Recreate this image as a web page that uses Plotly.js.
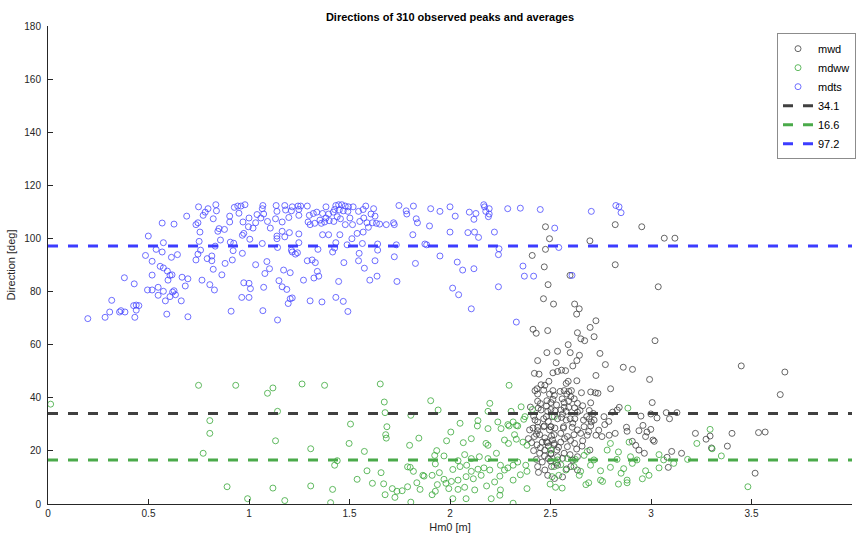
<!DOCTYPE html>
<html>
<head>
<meta charset="utf-8">
<script src="https://cdn.plot.ly/plotly-3.0.1.min.js"></script>
<style>
  html, body { margin: 0; padding: 0; background: #ffffff; }
  #chart { width: 856px; height: 538px; }
</style>
</head>
<body>
<div id="chart"></div>
<script>
// Observed peaks: [Hm0 (m), direction (deg)]
const mwdPoints = [
  [2.475,104.4],[2.495,99.9],[2.475,95.9],[2.409,93.6],[2.469,89.3],[2.696,99.1],[2.822,105.2],[2.954,104.4],[3.066,100.1],[3.119,100.1],
  [2.822,90.1],[2.597,86.1],[2.488,82.6],[3.036,81.8],[2.465,77.3],[2.515,75.3],[2.620,75.3],[2.643,73.5],[2.630,71.5],
  [2.413,65.8],[2.429,64.3],[2.486,65.3],[2.634,64.5],[2.651,62.2],[2.670,61.5],[2.697,66.5],[2.726,69.0],[2.717,63.0],[2.588,60.0],
  [2.482,57.0],[2.535,57.5],[2.598,57.0],[2.746,56.7],[2.644,56.0],[2.436,54.0],[2.528,53.2],[2.631,54.0],[2.611,52.0],[2.773,52.5],
  [2.862,51.5],[2.908,50.7],[2.420,49.2],[2.443,48.9],[2.512,49.4],[2.535,49.9],[2.555,50.4],[2.575,50.2],[2.726,48.4],[2.492,46.2],
  [2.453,44.9],[2.472,44.7],[2.578,45.4],[2.588,46.2],[2.631,46.4],[2.433,43.4],[2.423,42.7],[2.436,41.4],[2.466,42.9],[2.512,42.7],
  [2.495,41.4],[2.519,40.9],[2.548,42.4],[2.568,42.7],[2.591,42.4],[2.604,42.7],[2.581,41.4],[2.654,41.9],[2.700,42.2],[2.723,41.9],
  [2.736,41.7],[2.799,43.4],[2.436,38.7],[2.482,38.9],[2.512,39.4],[2.502,38.2],[2.558,39.6],[2.568,38.2],[2.601,40.4],[2.618,39.6],
  [2.634,37.9],[2.700,38.1],[2.568,36.4],[2.552,35.4],[2.578,34.9],[2.591,36.4],[2.439,36.1],[2.453,35.4],[2.486,34.9],[2.502,35.6],
  [2.522,35.1],[2.634,34.6],[2.647,35.2],[2.693,35.2],[2.713,34.1],[2.766,32.9],[2.809,34.6],[2.832,35.4],[2.842,36.4],[2.878,28.9],
  [2.416,33.1],[2.423,31.6],[2.436,30.9],[2.466,32.1],[2.479,32.9],[2.489,31.1],[2.509,32.9],[2.535,32.1],[2.555,32.6],[2.578,31.6],
  [2.598,32.1],[2.611,30.4],[2.621,32.1],[2.664,31.6],[2.680,32.9],[2.693,32.1],[2.703,30.9],[2.717,31.6],[2.436,28.9],[2.469,29.4],
  [2.502,29.1],[2.565,29.1],[2.608,28.9],[2.700,29.4],
  [3.020,61.5],[2.993,46.9],[3.449,52.0],[3.666,49.7],[3.643,41.2],[3.006,38.2],[2.950,33.1],[2.999,33.9],[3.030,32.4],[3.076,34.4],
  [3.092,32.1],[3.129,34.4],[2.960,29.6],[2.999,28.1],
  [3.221,26.6],[3.274,24.4],[3.294,25.6],[3.301,21.1],[3.403,26.6],[3.380,21.8],[3.535,26.9],[3.568,27.1],[3.518,11.6],[3.103,19.8],
  [3.152,19.1],[3.080,17.6],[3.086,13.8],
  [2.413,28.6],[2.436,27.6],[2.466,29.1],[2.495,27.9],[2.522,28.6],[2.420,25.4],[2.446,26.1],[2.472,24.9],[2.505,25.6],[2.406,23.1],
  [2.433,22.3],[2.459,23.3],[2.489,21.8],[2.519,22.8],[2.416,20.1],[2.446,19.1],[2.472,20.3],[2.502,18.8],[2.430,16.8],[2.459,15.8],
  [2.489,17.1],[2.436,14.1],[2.472,12.8],[2.505,14.1],[2.486,10.8],[2.390,24.6],[2.396,27.9],[2.532,20.3],
  [2.502,29.1],[2.564,28.6],[2.634,27.9],[2.667,29.1],[2.881,27.4],[2.940,27.6],[2.980,27.1],[2.518,26.1],[2.551,26.6],[2.584,25.4],
  [2.617,26.1],[2.650,26.6],[2.683,25.9],[2.726,25.9],[2.756,25.4],[2.792,25.9],[2.822,26.6],[2.907,23.6],[2.924,22.1],[2.973,25.4],
  [3.010,24.1],[3.016,23.6],[2.485,23.1],[2.518,22.3],[2.551,23.3],[2.584,21.6],[2.620,22.8],[2.657,21.8],[2.696,20.3],[2.940,20.3],
  [2.967,19.1],[2.502,19.1],[2.535,17.8],[2.568,19.1],[2.597,18.6],[2.634,17.8],[2.535,14.6],[2.601,14.1],[2.634,12.8],
  [2.400,36.5],[2.450,37.8],[2.480,36.9],[2.530,37.3],[2.560,33.9],[2.590,38.8],[2.620,36.2],[2.660,37.0],[2.430,26.3],[2.480,23.4],
  [2.510,24.1],[2.540,21.4],[2.570,24.6],[2.600,23.9],[2.630,20.7],[2.450,21.2],[2.500,16.2],[2.530,15.4],[2.560,17.2],[2.580,13.2],
  [2.470,18.1],[2.440,11.9],[2.520,9.6],[2.560,10.2],[2.610,16.5],[2.660,23.8],[2.690,27.3],[2.740,27.8],[2.770,29.9],[2.790,31.1]
];

const mdwwPoints = [
  [0.013,37.6],[0.749,44.7],[0.934,44.7],[0.805,31.4],[0.805,26.6],[0.772,19.1],[0.891,6.5],[0.993,2.0],
  [1.092,41.7],[1.119,43.7],[1.264,45.2],[1.376,44.7],[1.653,45.2],[1.673,38.4],[1.904,38.9],[1.941,35.4],[1.142,34.9],[1.677,34.4],
  [1.805,33.4],[1.505,30.1],[1.686,29.1],[1.680,26.1],[1.683,24.8],[1.132,23.8],[1.307,20.8],[1.498,22.8],[1.574,19.8],[1.799,22.1],
  [1.845,24.8],[1.983,23.8],[1.439,16.3],[1.426,14.6],[1.587,12.5],[1.538,9.3],[1.614,7.8],[1.657,11.8],[1.670,7.6],[1.677,3.5],
  [1.713,5.8],[1.736,4.8],[1.726,2.5],[1.762,5.0],[1.789,6.5],[1.805,0.7],[1.789,14.0],[1.802,13.8],[1.818,12.3],[1.835,8.0],
  [1.851,5.5],[1.865,10.8],[1.871,10.5],[1.911,10.8],[1.934,20.1],[1.924,18.3],[1.927,15.1],[1.947,11.8],[1.937,7.3],[1.911,3.5],
  [1.927,4.8],[1.970,18.1],[1.970,9.3],[1.980,7.8],[1.119,6.0],[1.307,6.8],[1.416,5.5],[1.178,1.3],[1.406,0.5],
  [2.294,44.7],[2.198,37.9],[2.189,34.9],[2.304,34.9],[2.354,36.6],[2.410,35.6],[2.050,30.4],[2.139,31.4],[2.136,29.4],[2.238,30.9],
  [2.314,30.9],[2.294,29.4],[2.337,29.4],[2.373,32.9],[2.367,31.9],[2.519,32.9],[2.885,36.1],
  [2.189,28.4],[2.254,28.4],[2.288,29.9],[2.330,29.6],[2.004,27.1],[2.106,24.6],[2.066,23.1],[2.179,22.8],[2.189,22.1],[2.271,24.1],
  [2.291,22.8],[2.321,26.1],[2.330,24.4],[2.363,23.3],[2.383,22.1],[2.040,16.3],[2.073,18.6],[2.106,17.1],[2.146,17.8],[2.189,17.1],
  [2.231,19.1],[2.251,14.6],[2.271,12.8],[2.314,14.6],[2.337,15.8],[2.377,14.6],[2.383,12.3],[2.350,11.0],[2.288,13.6],[2.014,13.0],
  [2.050,14.1],[2.083,14.6],[2.106,12.3],[2.139,13.1],[2.169,13.6],[2.198,12.8],[2.007,8.5],[2.040,9.0],[2.080,10.3],[2.116,9.5],
  [2.155,10.8],[2.222,8.3],[2.248,10.5],[2.314,9.0],[2.383,5.8],[1.994,5.8],[2.040,5.5],[2.073,6.3],[2.123,5.3],[2.182,6.8],
  [2.251,5.3],[2.014,2.0],[2.080,2.0],[2.205,2.0],[2.248,3.3],[2.314,0.3],
  [2.502,20.3],[2.535,16.6],[2.584,17.1],[2.624,16.8],[2.667,18.3],[2.683,19.8],[2.798,22.8],[2.782,20.3],[2.838,19.6],[2.891,23.3],
  [2.898,17.8],[2.716,16.6],[2.831,16.8],[2.930,16.6],[2.518,14.1],[2.551,14.8],[2.577,12.8],[2.617,14.1],[2.650,12.3],[2.699,14.6],
  [2.749,12.5],[2.798,13.8],[2.864,13.3],[2.907,15.3],[2.973,12.5],[2.851,11.6],[2.508,10.3],[2.541,10.8],[2.643,10.8],[2.749,9.0],
  [2.881,9.0],[2.957,9.5],[2.990,10.8],[2.498,7.5],[2.525,6.3],[2.558,6.0],[2.676,7.3],[2.690,8.0],[2.759,8.5],[2.838,7.5],[2.881,8.0],
  [3.294,28.1],[3.228,22.8],[3.304,20.8],[3.350,18.1],[3.182,16.8],[3.113,15.3],[3.040,18.6],[3.063,16.6],[3.040,13.6],[3.482,6.5]
];

const mdtsPoints = [
  [0.198,69.8],[0.284,70.3],[0.307,72.3],[0.356,72.3],[0.363,72.8],[0.383,72.3],[0.317,76.7],[0.380,85.2],[0.429,82.9],[0.426,74.7],
  [0.439,74.9],[0.452,74.7],[0.439,73.0],[0.432,70.3],[0.485,93.6],[0.499,100.9],[0.495,80.6],[0.518,80.6],[0.518,91.4],[0.518,86.2],
  [0.538,95.9],[0.548,81.6],[0.548,78.6],[0.574,80.1],[0.558,89.5],[0.574,88.9],[0.568,94.9],[0.574,98.4],[0.568,105.8],[0.591,71.5],
  [0.584,76.5],[0.594,87.7],[0.597,84.3],[0.607,86.1],[0.617,86.3],[0.620,79.8],[0.627,80.3],[0.634,78.8],[0.607,78.1],[0.614,92.9],
  [0.644,93.9],[0.627,105.4],[0.663,76.5],[0.667,85.4],[0.696,84.8],[0.683,82.1],[0.696,70.5],[0.690,108.4],[0.736,105.2],[0.746,105.9],
  [0.756,102.4],[0.749,111.9],[0.766,84.3],[0.752,98.9],[0.759,95.6],[0.746,94.1],[0.736,91.9],[0.772,108.7],[0.782,109.9],[0.796,111.2],
  [0.835,112.7],[0.838,110.4],[0.822,107.4],[0.792,92.4],[0.815,93.4],[0.815,91.6],[0.805,82.6],[0.828,80.6],[0.822,88.4],[0.845,102.7],
  [0.851,103.7],[0.878,103.4],[0.832,97.1],[0.858,99.4],[0.865,86.3],[0.881,90.6],[0.904,108.4],[0.904,106.2],[0.907,98.6],[0.924,98.2],
  [0.921,95.4],[0.917,91.9],[0.911,72.6],[0.927,111.7],[0.944,112.2],[0.960,112.2],[0.980,112.7],[0.950,109.5],[0.970,106.2],[1.000,107.7],
  [1.033,105.9],[1.040,109.0],[0.967,101.2],[0.974,101.9],[1.004,99.7],[0.967,94.4],[0.974,83.3],[1.000,83.1],[1.007,81.1],[1.000,77.8],
  [0.964,77.8],[1.033,90.1],[0.997,104.4],[1.020,103.9],
  [1.069,112.4],[1.135,112.4],[1.178,112.4],[1.215,111.9],[1.244,112.2],[1.257,112.2],[1.290,112.2],[1.383,111.9],[1.432,112.4],[1.446,112.7],
  [1.462,112.7],[1.479,112.2],[1.495,111.9],[1.518,111.9],[1.581,112.2],[1.620,111.2],[1.746,112.4],[1.818,112.2],[1.904,111.2],[1.950,110.2],
  [1.066,111.2],[1.073,109.2],[1.059,107.7],[1.139,110.2],[1.182,110.7],[1.211,110.4],[1.248,110.9],[1.248,108.7],[1.300,108.7],[1.320,109.4],
  [1.337,109.9],[1.366,109.4],[1.396,109.2],[1.419,109.9],[1.426,110.9],[1.449,110.7],[1.469,110.4],[1.492,110.2],[1.545,110.2],[1.568,110.9],
  [1.607,109.2],[1.627,108.4],[1.782,110.4],[1.785,109.2],[1.832,107.4],
  [1.092,106.4],[1.132,107.4],[1.165,106.2],[1.198,107.9],[1.294,106.2],[1.304,105.2],[1.327,105.7],[1.353,106.9],[1.360,105.7],[1.376,106.2],
  [1.383,107.7],[1.399,106.7],[1.422,106.4],[1.439,108.2],[1.455,107.4],[1.479,105.2],[1.502,107.7],[1.515,105.2],[1.551,106.4],[1.571,107.7],
  [1.587,105.9],[1.614,105.9],[1.634,105.7],[1.650,105.4],[1.683,105.2],[1.719,105.9],[1.723,105.2],[1.838,105.9],[1.898,104.7],
  [1.106,103.9],[1.139,100.9],[1.139,99.9],[1.165,102.7],[1.178,100.6],[1.201,102.2],[1.248,101.7],[1.366,101.4],[1.396,101.4],[1.452,101.4],
  [1.512,99.9],[1.538,101.9],[1.568,102.4],[1.594,104.2],[1.815,101.4],
  [1.142,96.6],[1.248,98.4],[1.432,98.4],[1.488,97.6],[1.564,98.1],[1.640,97.9],[1.640,95.6],[1.733,97.6],[1.875,97.9],[1.884,97.6],
  [1.066,98.1],[1.343,95.9],
  [1.211,95.6],[1.215,94.9],[1.231,94.1],[1.241,94.6],[1.416,94.9],[1.426,96.4],[1.548,94.4],[1.290,91.6],[1.314,91.9],[1.330,90.9],
  [1.472,90.9],[1.545,91.6],[1.627,91.6],[1.723,93.1],[1.828,90.6],[1.950,93.4],[1.089,91.3],[1.102,88.6],[1.079,86.8],[1.172,88.1],
  [1.205,87.1],[1.340,87.6],[1.323,85.1],[1.347,85.8],[1.574,88.8],[1.637,85.8],[1.601,84.3],[1.736,83.8],
  [1.149,84.1],[1.165,81.8],[1.188,80.8],[1.073,81.6],[1.271,84.3],[1.446,83.8],[1.205,77.3],[1.215,77.6],[1.195,75.5],[1.304,76.5],
  [1.363,76.1],[1.432,77.8],[1.469,76.3],[1.492,72.5],[1.069,72.8],[1.142,69.3],
  [2.000,111.9],[2.026,108.4],[2.096,109.9],[2.129,109.4],[2.119,107.2],[2.168,112.7],[2.172,111.9],[2.195,111.2],[2.178,110.2],[2.195,109.2],
  [2.191,108.2],[2.287,111.2],[2.350,111.4],[2.449,110.9],[2.703,110.2],[2.825,112.4],[2.841,111.9],[2.851,109.7],[2.000,102.4],[2.089,102.2],
  [2.122,102.4],[2.142,100.4],[2.221,102.4],[2.521,103.9],[2.244,96.1],[2.241,93.9],[2.541,96.6],[2.036,91.1],[2.063,88.1],[2.119,88.6],
  [2.363,89.6],[2.370,85.8],[2.416,85.8],[2.607,86.1],[2.013,81.3],[2.043,78.8],[2.241,81.8],[2.106,73.5],[2.330,68.5]
];

// Series averages (deg) and their legend labels
const meanValues = [34.1, 16.6, 97.2];
const meanLabels = ['34.1', '16.6', '97.2'];
const seriesNames = ['mwd', 'mdww', 'mdts'];

const hsRange = [0, 4];
const dirRange = [0, 180];
const xTickVals = [0, 0.5, 1, 1.5, 2, 2.5, 3, 3.5];
const xTickText = ['0', '0.5', '1', '1.5', '2', '2.5', '3', '3.5'];
const yTickVals = [0, 20, 40, 60, 80, 100, 120, 140, 160, 180];

const markerColors = ['#404040', '#3aa83a', '#4a4aff'];
const lineColors = ['#404040', '#4aaa4a', '#3c3cff'];

const pointSets = [mwdPoints, mdwwPoints, mdtsPoints];

const traces = pointSets.map((pts, i) => ({
  type: 'scatter',
  mode: 'markers',
  name: seriesNames[i],
  x: pts.map(p => p[0]),
  y: pts.map(p => p[1]),
  marker: {
    symbol: 'circle-open',
    size: 6,
    color: markerColors[i],
    line: { width: 0.8, color: markerColors[i] }
  },
  hoverinfo: 'x+y'
}));

meanValues.forEach((v, i) => {
  traces.push({
    type: 'scatter',
    mode: 'lines',
    name: meanLabels[i],
    x: hsRange,
    y: [v, v],
    line: { color: lineColors[i], width: 3, dash: '10px,10px' }
  });
});

const axisFont = { family: 'Liberation Sans, Arial, sans-serif', size: 10, color: '#262626' };

const layout = {
  width: 856,
  height: 538,
  margin: { l: 48, r: 0, t: 26, b: 34 },
  paper_bgcolor: '#ffffff',
  plot_bgcolor: '#ffffff',
  font: axisFont,
  showlegend: true,
  title: {
    text: '<b>Directions of 310 observed peaks and averages</b>',
    font: { family: 'Liberation Sans, Arial, sans-serif', size: 11, color: '#000000' },
    xref: 'paper', x: 0.5, xanchor: 'center',
    yref: 'container', y: 0.968, yanchor: 'middle'
  },
  xaxis: {
    range: hsRange,
    tickvals: xTickVals,
    ticktext: xTickText,
    ticks: 'inside',
    ticklen: 5,
    tickcolor: '#262626',
    showline: true,
    linecolor: '#262626',
    linewidth: 1,
    showgrid: false,
    zeroline: false,
    tickfont: axisFont,
    title: { text: 'Hm0 [m]', font: { family: 'Liberation Sans, Arial, sans-serif', size: 11, color: '#262626' }, standoff: 5 }
  },
  yaxis: {
    range: dirRange,
    tickvals: yTickVals,
    ticks: 'inside',
    ticklen: 5,
    tickcolor: '#262626',
    showline: true,
    linecolor: '#262626',
    linewidth: 1,
    showgrid: false,
    zeroline: false,
    tickfont: axisFont,
    ticklabelstandoff: 4,
    title: { text: 'Direction [deg]', font: { family: 'Liberation Sans, Arial, sans-serif', size: 11, color: '#262626' }, standoff: 6 }
  },
  legend: {
    x: 0.907, y: 0.985,
    xanchor: 'left', yanchor: 'top',
    bgcolor: '#ffffff',
    bordercolor: '#8c8c8c',
    borderwidth: 1,
    font: { family: 'Liberation Sans, Arial, sans-serif', size: 11, color: '#000000' },
    tracegroupgap: 0,
    itemwidth: 30
  }
};

Plotly.newPlot('chart', traces, layout, { displayModeBar: false, staticPlot: true });
</script>
</body>
</html>
